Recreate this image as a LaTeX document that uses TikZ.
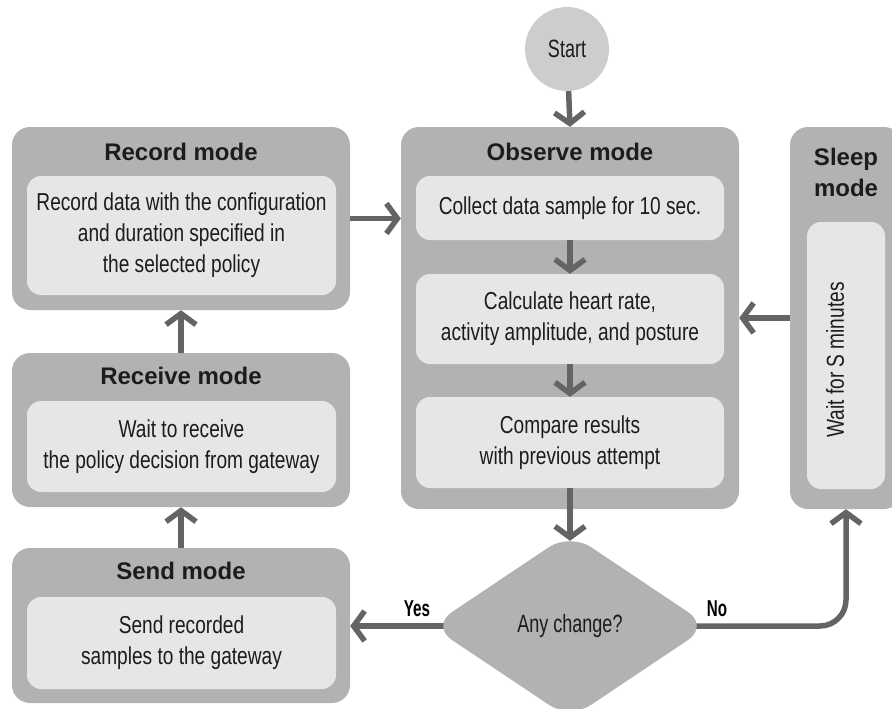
\documentclass[tikz,border=0pt]{standalone}
\usepackage{fontspec}
\setmainfont{Liberation Sans}
\newfontfamily\condfont[FakeStretch=0.78]{Liberation Sans}
\newfontfamily\narrowfont[FakeStretch=0.72]{Liberation Sans}
\newfontfamily\heavyfont[FakeStretch=0.66]{Liberation Sans}
\usetikzlibrary{arrows.meta,shapes.geometric}
\definecolor{outerfill}{HTML}{B2B2B2}
\definecolor{innerfill}{HTML}{E6E6E6}
\definecolor{startfill}{HTML}{CDCDCD}
\definecolor{linkgray}{HTML}{646464}
\definecolor{inkgray}{HTML}{1C1C1C}
\pgfdeclarelayer{back}
\pgfsetlayers{back,main}
\begin{document}
\begin{tikzpicture}[x=1pt,y=-1pt,
  modebox/.style={fill=outerfill, rounded corners=18, inner sep=0},
  stepbox/.style={fill=innerfill, rounded corners=14, inner sep=0, align=center,
    font=\condfont\fontsize{24.5}{31}\selectfont, text=inkgray},
  modetitle/.style={font=\bfseries\fontsize{24}{31}\selectfont, align=center,
    inner sep=0, text=inkgray},
  plaintext/.style={font=\narrowfont\fontsize{25}{31}\selectfont, inner sep=0, text=inkgray},
  link/.style={draw=linkgray, line width=5.5,
    -{Straight Barb[length=11pt, width=30pt]}},
  answer/.style={font=\heavyfont\bfseries\fontsize{23}{26}\selectfont, inner sep=0}
]
\useasboundingbox (0,0) rectangle (892,709);
\clip (0,0) rectangle (892,709);

% start terminal
\node[circle, fill=startfill, minimum size=84, inner sep=0, plaintext] (start) at (567,49) {Start};

% mode containers
\node[modebox, minimum width=338, minimum height=183] (rec)   at (181,218.5) {};
\node[modebox, minimum width=338, minimum height=154] (recv)  at (181,430) {};
\node[modebox, minimum width=338, minimum height=155] (send)  at (181,625.5) {};
\node[modebox, minimum width=338, minimum height=382] (obs)   at (570,318) {};
\node[modebox, minimum width=112, minimum height=382] (sleep) at (846,318) {};

% mode titles
\node[modetitle] (rectitle)   at (181,152) {Record mode};
\node[modetitle] (recvtitle)  at (181,376) {Receive mode};
\node[modetitle] (sendtitle)  at (181,571) {Send mode};
\node[modetitle] (obstitle)   at (570,152) {Observe mode};
\node[modetitle] (sleeptitle) at (846,172) {Sleep\\mode};

% steps
\node[stepbox, minimum width=309, minimum height=119] (recstep) at (181.5,235.5)
  {Record data with the configuration\\and duration specified in\\the selected policy};
\node[stepbox, minimum width=309, minimum height=91] (recvstep) at (181.5,446.5)
  {Wait to receive\\the policy decision from gateway};
\node[stepbox, minimum width=309, minimum height=92] (sendstep) at (181.5,643)
  {Send recorded\\samples to the gateway};
\node[stepbox, minimum width=308, minimum height=64] (collect) at (570,208)
  {Collect data sample for 10 sec.};
\node[stepbox, minimum width=308, minimum height=90] (calc) at (570,319)
  {Calculate heart rate,\\activity amplitude, and posture};
\node[stepbox, minimum width=308, minimum height=91] (compare) at (570,442.5)
  {Compare results\\with previous attempt};
\node[stepbox, minimum width=78, minimum height=267] (waitbox) at (846,355.5) {};
\node[stepbox, fill=none, rotate=90] (waittext) at (835,360) {Wait for S minutes};

% decision
\node[diamond, aspect=1.495, minimum width=278, minimum height=186, inner sep=0,
  fill=outerfill, rounded corners=25, plaintext] (change) at (570,626) {Any change?};
\coordinate (changetop) at ([yshift=-8pt]change.north);

% connectors
\draw[link] (start) -- (obs.north);
\draw[link] (rec.east) -- (rec.east -| obs.west);
\draw[link] (recv.north) -- (rec.south);
\draw[link] (send.north) -- (recv.south);
\draw[link] (collect.south) -- (calc.north);
\draw[link] (calc.south) -- (compare.north);
\draw[link] (compare.south) -- (changetop);
\draw[link] (sleep.west |- obs.east) -- (obs.east);
\begin{pgfonlayer}{back}
  \draw[link] (change.center) -- (change.center -| send.east);
  \draw[link, rounded corners=26] (change.center) -| (sleep.south);
\end{pgfonlayer}

% branch labels
\node[answer, anchor=base] (yes) at (417,616) {Yes};
\node[answer, anchor=base] (no)  at (717,616) {No};
\end{tikzpicture}
\end{document}
